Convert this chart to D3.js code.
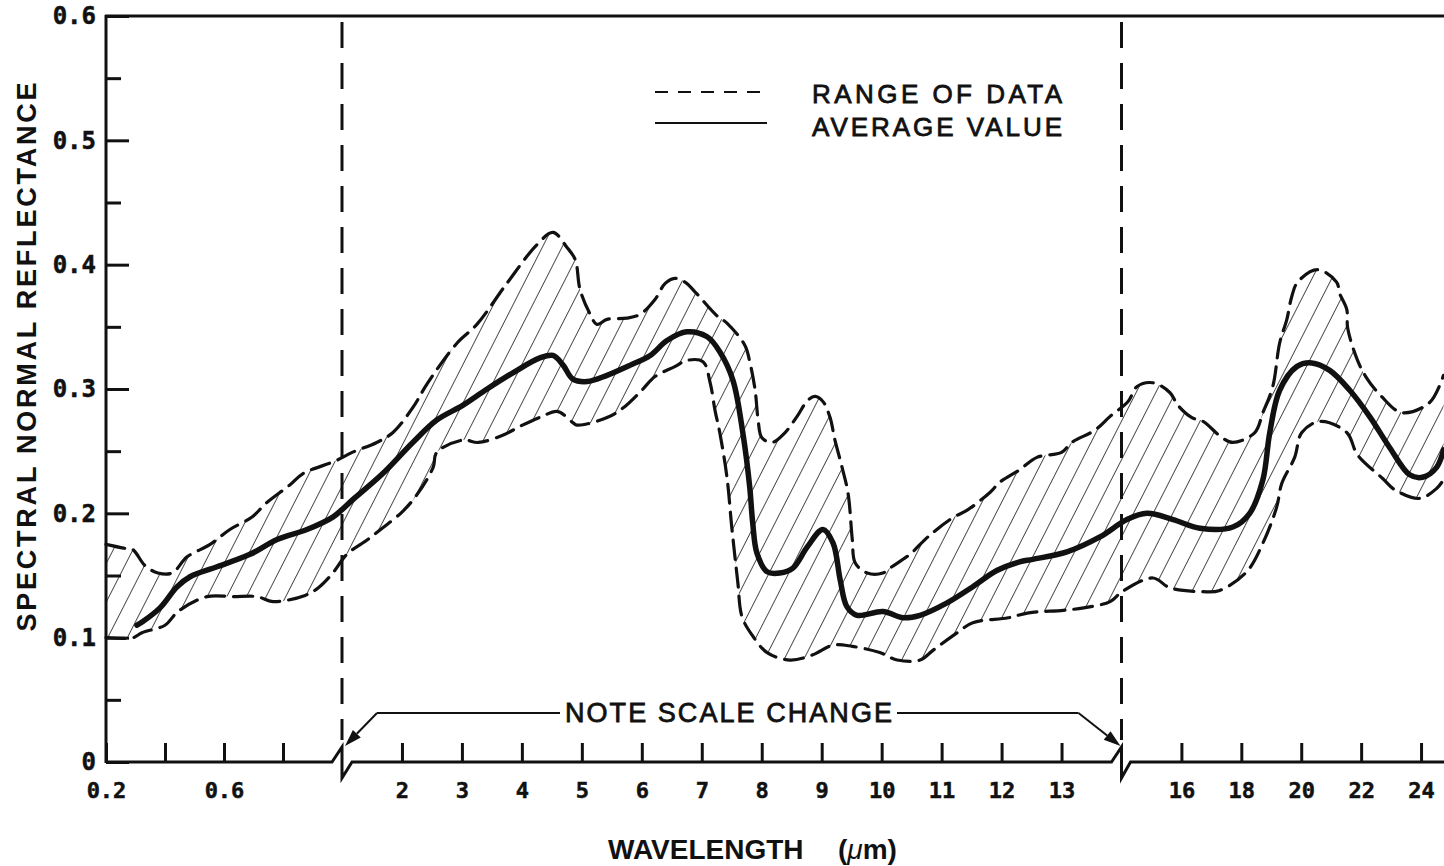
<!DOCTYPE html>
<html>
<head>
<meta charset="utf-8">
<script src="https://cdn.jsdelivr.net/npm/d3@7"></script>
<style>
  html, body { margin: 0; padding: 0; background: #fff; }
  svg { display: block; }
</style>
</head>
<body>
<svg id="chart" width="1444" height="866"></svg>
<script>
// Wavelength (µm) and reflectance for the upper edge of the data range
const upperWl = [0.2, 0.26, 0.29, 0.332, 0.376, 0.424, 0.475, 0.553, 0.62, 0.695, 0.742, 0.824, 0.868, 0.976,
  1.17, 1.58, 1.85, 2.18, 2.43, 2.92, 3.25, 3.75, 4.25, 4.52, 4.75, 4.89, 4.97, 5.14, 5.25, 5.42, 5.75, 5.97,
  6.22, 6.39, 6.55, 6.72, 6.89, 7.25, 7.42, 7.72, 7.8, 7.89, 7.94, 8.0, 8.17, 8.39, 8.59, 8.77, 8.89, 9.02,
  9.14, 9.22, 9.34, 9.44, 9.51, 9.56, 9.76, 10.02, 10.17, 10.47, 10.77, 11.17, 11.44, 11.81, 11.97, 12.3,
  12.59, 13.0, 13.17, 13.56, 13.81, 14.22, 14.52, 15.05, 15.62, 15.88, 16.35, 16.72, 17.35, 17.72, 18.45,
  18.72, 19.05, 19.28, 19.52, 19.68, 19.88, 20.55, 21.18, 21.28, 21.52, 21.55, 21.88, 22.18, 22.68, 23.35,
  24.28, 24.75];
const upperR = [0.175, 0.172, 0.171, 0.158, 0.152, 0.152, 0.165, 0.175, 0.187, 0.197, 0.208, 0.223, 0.232, 0.242,
  0.249, 0.257, 0.265, 0.285, 0.305, 0.337, 0.352, 0.385, 0.416, 0.426, 0.414, 0.404, 0.38, 0.36, 0.352, 0.356, 0.357, 0.36,
  0.372, 0.385, 0.389, 0.386, 0.378, 0.359, 0.353, 0.335, 0.322, 0.299, 0.275, 0.261, 0.257, 0.265, 0.278, 0.291, 0.294, 0.29,
  0.277, 0.259, 0.237, 0.216, 0.179, 0.16, 0.152, 0.152, 0.157, 0.167, 0.181, 0.196, 0.203, 0.217, 0.225, 0.235,
  0.245, 0.249, 0.257, 0.267, 0.278, 0.29, 0.302, 0.305, 0.297, 0.287, 0.277, 0.274, 0.261, 0.257, 0.265,
  0.281, 0.302, 0.337, 0.356, 0.374, 0.386, 0.396, 0.386, 0.377, 0.364, 0.349, 0.323, 0.309, 0.294, 0.281,
  0.289, 0.311];

// Lower edge of the data range
const lowerWl = [0.2, 0.292, 0.322, 0.4, 0.444, 0.542, 0.63, 0.712, 0.766, 0.875, 0.919, 0.969,
  1.08, 1.43, 1.67, 2.0, 2.25, 2.52, 2.58, 3.02, 3.27, 3.69, 3.97, 4.34, 4.59, 4.85, 4.92, 5.42, 5.72, 6.0,
  6.22, 6.55, 6.75, 7.02, 7.14, 7.22, 7.3, 7.42, 7.5, 7.6, 7.67, 7.84, 8.09, 8.47, 8.84, 9.19, 9.51, 9.97,
  10.26, 10.64, 10.86, 11.26, 11.52, 12.11, 12.45, 13.03, 13.37, 13.81, 14.02, 15.05, 15.62, 16.72, 17.28,
  18.18, 18.72, 19.18, 19.35, 19.78, 20.02, 20.62, 21.52, 21.88, 22.72, 23.12, 23.95, 24.52, 24.75];
const lowerR = [0.1, 0.1, 0.104, 0.11, 0.121, 0.133, 0.133, 0.133, 0.129, 0.134, 0.14, 0.152,
  0.167, 0.179, 0.188, 0.201, 0.215, 0.237, 0.249, 0.259, 0.257, 0.263, 0.27, 0.278, 0.282, 0.273, 0.271, 0.277, 0.286, 0.299,
  0.31, 0.318, 0.323, 0.322, 0.305, 0.283, 0.265, 0.229, 0.189, 0.145, 0.117, 0.102, 0.088, 0.082, 0.086, 0.094, 0.093, 0.088,
  0.082, 0.082, 0.09, 0.104, 0.112, 0.116, 0.12, 0.122, 0.124, 0.129, 0.137, 0.148, 0.14, 0.137, 0.138,
  0.153, 0.176, 0.205, 0.224, 0.245, 0.265, 0.274, 0.265, 0.247, 0.228, 0.219, 0.212, 0.22, 0.227];

// Average value
const avgWl = [0.305, 0.325, 0.383, 0.441, 0.485, 0.576, 0.688, 0.78, 0.881, 0.969, 1.0,
  1.18, 1.68, 2.18, 2.58, 3.02, 3.42, 3.85, 4.3, 4.52, 4.69, 4.85, 5.09, 5.42, 5.8, 6.14, 6.42, 6.75,
  7.09, 7.3, 7.52, 7.69, 7.8, 7.85, 7.92, 8.09, 8.3, 8.52, 8.76, 9.02, 9.19, 9.31, 9.42, 9.59, 10.02,
  10.36, 10.64, 11.09, 11.52, 11.92, 12.3, 12.52, 13.09, 13.64, 14.18, 14.85, 15.72, 16.62, 17.72, 18.28,
  18.72, 18.95, 19.28, 19.85, 20.35, 20.95, 21.62, 22.28, 22.95, 23.62, 24.05, 24.52, 24.75];
const avgR = [0.11, 0.113, 0.124, 0.141, 0.149, 0.157, 0.167, 0.179, 0.187, 0.197, 0.203,
  0.211, 0.232, 0.257, 0.275, 0.287, 0.3, 0.313, 0.325, 0.327, 0.319, 0.308, 0.306, 0.311, 0.319, 0.327, 0.339, 0.346,
  0.342, 0.33, 0.307, 0.263, 0.221, 0.192, 0.168, 0.153, 0.152, 0.156, 0.173, 0.187, 0.176, 0.146, 0.125, 0.118, 0.121,
  0.116, 0.118, 0.128, 0.141, 0.154, 0.161, 0.163, 0.169, 0.181, 0.195, 0.2, 0.195, 0.188, 0.189, 0.2,
  0.227, 0.265, 0.299, 0.318, 0.321, 0.315, 0.299, 0.278, 0.253, 0.231, 0.229, 0.237, 0.251];

// Axis ticks and labels
const xTickValues = [0.2, 0.4, 0.6, 0.8, 2, 3, 4, 5, 6, 7, 8, 9, 10, 11, 12, 13, 16, 18, 20, 22, 24];
const xLabelValues = [0.2, 0.6, 2, 3, 4, 5, 6, 7, 8, 9, 10, 11, 12, 13, 16, 18, 20, 22, 24];
const yMajorTicks = [0, 0.1, 0.2, 0.3, 0.4, 0.5, 0.6];
const yMinorTicks = [0.05, 0.15, 0.25, 0.35, 0.45, 0.55];
const legendLabels = ["RANGE OF DATA", "AVERAGE VALUE"];
const xBreaks = [1, 14];

const svg = d3.select("#chart");
const ink = "#111";

// Three-part wavelength axis: 0.2–1, 1–14 and 14–25 µm each with its own scale
const x = d3.scaleLinear().domain([0.2, 1, 14, 25]).range([106, 342, 1121.5, 1451]);
const y = d3.scaleLinear().domain([0, 0.6]).range([762, 16]);
const plotRight = 1444;

const zip = (ws, rs) => ws.map((w, i) => [w, rs[i]]);
const upper = zip(upperWl, upperR);
const lower = zip(lowerWl, lowerR);
const avg = zip(avgWl, avgR);

const line = d3.line()
  .x(d => x(d[0])).y(d => y(d[1]))
  .curve(d3.curveCatmullRom.alpha(0.5));

// Diagonal hatching for the range band
const defs = svg.append("defs");
defs.append("pattern")
  .attr("id", "hatch")
  .attr("patternUnits", "userSpaceOnUse")
  .attr("width", 17.5).attr("height", 17.5)
  .attr("patternTransform", "rotate(27)")
  .append("line")
  .attr("x1", 0).attr("y1", 0).attr("x2", 0).attr("y2", 17.5)
  .attr("stroke", ink).attr("stroke-width", 1.5);

const bandPath = line(upper) + line(lower.slice().reverse()).replace(/^M/, "L") + "Z";
svg.append("path")
  .attr("d", bandPath)
  .attr("fill", "url(#hatch)")
  .attr("stroke", "none");

// Range edges (dashed)
[upper, lower].forEach(series => {
  svg.append("path")
    .attr("d", line(series))
    .attr("fill", "none")
    .attr("stroke", ink)
    .attr("stroke-width", 3.2)
    .attr("stroke-dasharray", "19 9")
    .attr("stroke-linecap", "round");
});

// Average curve
svg.append("path")
  .attr("d", line(avg))
  .attr("fill", "none")
  .attr("stroke", ink)
  .attr("stroke-width", 5.5)
  .attr("stroke-linecap", "round")
  .attr("stroke-linejoin", "round");

// Dashed vertical lines where the scale changes
xBreaks.forEach(b => {
  svg.append("line")
    .attr("x1", x(b)).attr("x2", x(b))
    .attr("y1", 22).attr("y2", 740)
    .attr("stroke", ink).attr("stroke-width", 3)
    .attr("stroke-dasharray", "26 15");
});

// Frame: left axis and top border
svg.append("line").attr("x1", 106).attr("x2", 106).attr("y1", 15).attr("y2", 763)
  .attr("stroke", ink).attr("stroke-width", 3);
svg.append("line").attr("x1", 105).attr("x2", plotRight).attr("y1", 16).attr("y2", 16)
  .attr("stroke", ink).attr("stroke-width", 3);

// Bottom axis line with break symbols
const y0 = y(0);
const bx = xBreaks.map(b => x(b));
const axisD = `M106,${y0} L${bx[0] - 10},${y0} L${bx[0]},${y0 - 15} L${bx[0]},${y0 + 16} L${bx[0] + 10},${y0}` +
  ` L${bx[1] - 10},${y0} L${bx[1]},${y0 - 15} L${bx[1]},${y0 + 16} L${bx[1] + 9},${y0} L${plotRight},${y0}`;
svg.append("path").attr("d", axisD).attr("fill", "none")
  .attr("stroke", ink).attr("stroke-width", 3).attr("stroke-linejoin", "miter");

// X ticks and labels
const labelSet = new Set(xLabelValues);
const xAxis = d3.axisBottom(x)
  .tickValues(xTickValues)
  .tickSizeInner(-19).tickSizeOuter(0)
  .tickPadding(20)
  .tickFormat(d => labelSet.has(d) ? (d < 1 ? d.toFixed(1) : String(d)) : "");
const gx = svg.append("g").attr("transform", `translate(0,${y0})`).call(xAxis);
gx.select(".domain").remove();
gx.selectAll(".tick line").attr("stroke", ink).attr("stroke-width", 3);
gx.selectAll(".tick text")
  .attr("fill", ink)
  .attr("stroke", ink).attr("stroke-width", 0.5)
  .style("font-family", "'DejaVu Sans Mono', monospace")
  .style("font-weight", "bold")
  .style("font-size", "22px");

// Y ticks and labels
const yAxis = d3.axisLeft(y)
  .tickValues(yMajorTicks)
  .tickSizeInner(-23).tickSizeOuter(0)
  .tickPadding(10)
  .tickFormat(d3.format(".1f"));
const gy = svg.append("g").attr("transform", "translate(106,0)").call(yAxis);
gy.select(".domain").remove();
gy.selectAll(".tick line").attr("stroke", ink).attr("stroke-width", 3);
gy.selectAll(".tick text")
  .text(d => d === 0 ? "0" : d3.format(".1f")(d))
  .attr("fill", ink)
  .attr("stroke", ink).attr("stroke-width", 0.5)
  .style("font-family", "'DejaVu Sans Mono', monospace")
  .style("font-weight", "bold")
  .style("font-size", "24px");

const gyMinor = svg.append("g").attr("transform", "translate(106,0)")
  .call(d3.axisLeft(y).tickValues(yMinorTicks).tickSizeInner(-15).tickSizeOuter(0).tickFormat(""));
gyMinor.select(".domain").remove();
gyMinor.selectAll(".tick line").attr("stroke", ink).attr("stroke-width", 3);

// Axis titles
svg.append("text")
  .attr("transform", "translate(36,357) rotate(-90)")
  .attr("text-anchor", "middle")
  .attr("textLength", 549).attr("lengthAdjust", "spacing")
  .style("font-family", "'Liberation Sans', Arial, sans-serif")
  .style("font-weight", "bold")
  .style("font-size", "27px")
  .attr("fill", ink)
  .text("SPECTRAL NORMAL REFLECTANCE");

const xt = svg.append("text")
  .attr("x", 608).attr("y", 859)
  .style("font-family", "'Liberation Sans', Arial, sans-serif")
  .style("font-weight", "bold")
  .style("font-size", "28px")
  .attr("fill", ink);
xt.append("tspan").text("WAVELENGTH");
xt.append("tspan").attr("x", 838).text("(");
xt.append("tspan").style("font-style", "italic").style("font-weight", "normal").text("μ");
xt.append("tspan").text("m)");

// Scale-change note with arrows to both breaks
const noteY = 713;
const noteLeft = bx[0] + 35, noteRight = bx[1] - 43;
const noteG = svg.append("g");
noteG.append("text")
  .attr("x", 565).attr("y", 722)
  .attr("textLength", 327).attr("lengthAdjust", "spacing")
  .style("font-family", "'Liberation Sans', Arial, sans-serif")
  .style("font-size", "27px")
  .attr("fill", ink)
  .attr("stroke", ink).attr("stroke-width", 0.8)
  .text("NOTE SCALE CHANGE");

function arrow(fromX, fromY, tipX, tipY) {
  const dx = tipX - fromX, dy = tipY - fromY;
  const len = Math.hypot(dx, dy);
  const ux = dx / len, uy = dy / len;
  const hl = 17, hw = 5.5;
  const bxp = tipX - ux * hl, byp = tipY - uy * hl;
  noteG.append("line").attr("x1", fromX).attr("y1", fromY).attr("x2", bxp).attr("y2", byp)
    .attr("stroke", ink).attr("stroke-width", 2);
  noteG.append("path")
    .attr("d", `M${tipX},${tipY} L${bxp - uy * hw},${byp + ux * hw} L${bxp + uy * hw},${byp - ux * hw} Z`)
    .attr("fill", ink);
}
noteG.append("line").attr("x1", noteLeft).attr("x2", 560).attr("y1", noteY).attr("y2", noteY)
  .attr("stroke", ink).attr("stroke-width", 2);
noteG.append("line").attr("x1", 897).attr("x2", noteRight).attr("y1", noteY).attr("y2", noteY)
  .attr("stroke", ink).attr("stroke-width", 2);
arrow(noteLeft, noteY, bx[0] + 3, 746);
arrow(noteRight, noteY, bx[1] - 1, 746);

// Legend
const legend = svg.append("g");
legend.append("line").attr("x1", 655).attr("x2", 767).attr("y1", 92).attr("y2", 92)
  .attr("stroke", ink).attr("stroke-width", 2.2).attr("stroke-dasharray", "13 10");
legend.append("line").attr("x1", 655).attr("x2", 767).attr("y1", 123).attr("y2", 123)
  .attr("stroke", ink).attr("stroke-width", 2.2);
legend.selectAll("text.lg").data(legendLabels).enter().append("text")
  .attr("class", "lg")
  .attr("x", 812).attr("y", (d, i) => 103 + i * 33)
  .attr("textLength", 250).attr("lengthAdjust", "spacing")
  .style("font-family", "'Liberation Sans', Arial, sans-serif")
  .style("font-size", "26px")
  .attr("fill", ink)
  .attr("stroke", ink).attr("stroke-width", 0.8)
  .text(d => d);
</script>
</body>
</html>
